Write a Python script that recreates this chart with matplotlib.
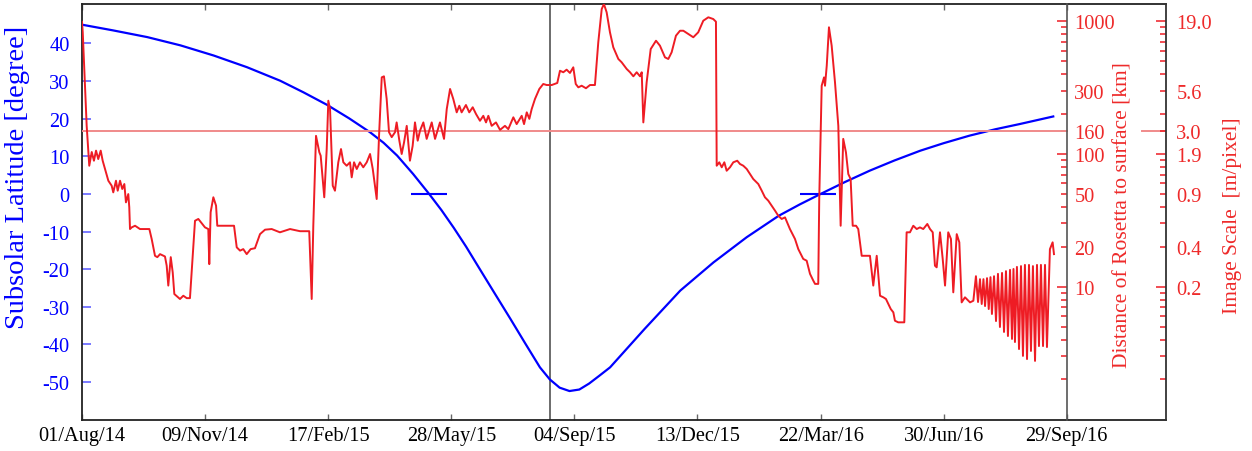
import matplotlib
matplotlib.use("Agg")
import matplotlib.pyplot as plt
from matplotlib.ticker import FixedLocator, FuncFormatter

plt.rcParams['font.family'] = ['Liberation Serif', 'DejaVu Serif']
plt.rcParams['axes.unicode_minus'] = False

# ---------------- data ----------------
date_tick_days = [0, 100, 200, 300, 400, 500, 600, 700, 800]
date_tick_labels = ['01/Aug/14', '09/Nov/14', '17/Feb/15', '28/May/15', '04/Sep/15',
                    '13/Dec/15', '22/Mar/16', '30/Jun/16', '29/Sep/16']

lat_ticks = [-50, -40, -30, -20, -10, 0, 10, 20, 30, 40]

# subsolar latitude (degree) vs days since 01/Aug/14
lat_days = [0, 25, 53, 80, 107, 134, 161, 180, 199, 217, 234, 245, 256, 269, 282, 292,
            302, 312, 323, 335, 348, 360, 372, 380, 388, 396, 404, 412, 420, 429, 457,
            486, 513, 540, 566, 583, 600, 620, 640, 660, 681, 700, 721, 742, 762, 789]
lat_deg = [45.0, 43.5, 41.7, 39.5, 36.8, 33.7, 30.1, 27.0, 23.7, 20.1, 16.4, 13.6, 10.2,
           5.3, 0.0, -4.3, -9.0, -14.0, -19.9, -26.3, -33.2, -39.7, -46.1, -49.3, -51.5,
           -52.4, -52.0, -50.4, -48.4, -46.1, -35.9, -25.7, -18.2, -11.5, -5.8, -2.8, 0.0,
           3.2, 6.2, 8.9, 11.5, 13.5, 15.5, 17.2, 18.6, 20.6]

# distance of Rosetta to surface (km) vs days since 01/Aug/14
dist_days = [
    0.0, 0.6, 3.8, 5.9, 7.9, 9.7, 11.4, 13.2, 15.2, 16.8, 18.7, 21.4, 24.1, 25.4, 27.6,
    29.0, 30.9, 32.7, 34.4, 35.7, 37.6, 38.4, 39.0, 40.4, 43.1, 47.1, 52.6, 54.7, 56.6,
    59.3, 61.2, 63.4, 67.4, 68.8, 70.1, 72.1, 73.7, 75.0, 79.6, 82.3, 85.1, 87.7, 91.8,
    94.5, 99.9, 102.6, 103.4, 104.5, 106.7, 108.9, 109.9, 113.5, 123.5, 125.7, 128.4,
    131.0, 133.8, 137.0, 140.5, 144.6, 148.7, 154.1, 160.8, 169.0, 177.1, 184.6, 186.6,
    187.9, 190.1, 192.8, 193.9, 196.8, 198.8, 200.1, 201.5, 203.7, 205.5, 208.2, 210.4,
    212.3, 215.0, 217.7, 219.1, 221.0, 223.2, 225.8, 228.5, 231.3, 234.0, 236.2, 239.4,
    241.3, 243.5, 245.3, 247.5, 249.4, 251.6, 254.3, 255.6, 257.8, 259.7, 261.6, 263.8,
    266.4, 268.6, 270.5, 272.7, 274.6, 277.3, 280.0, 284.1, 286.8, 290.8, 294.1, 296.3,
    299.0, 301.6, 304.4, 306.5, 308.4, 311.9, 314.6, 317.4, 320.1, 323.3, 326.0, 328.2,
    330.1, 332.8, 336.3, 339.6, 343.6, 346.3, 350.4, 353.1, 357.2, 359.1, 361.3, 363.4,
    365.3, 368.0, 371.5, 374.7, 377.5, 381.6, 386.1, 388.3, 391.0, 393.7, 396.4, 399.1,
    401.1, 403.2, 405.9, 409.4, 412.7, 416.7, 419.4, 422.2, 424.0, 426.2, 428.9, 431.6,
    435.7, 438.4, 442.5, 445.2, 447.9, 450.6, 453.3, 454.7, 456.0, 458.7, 462.0, 466.3,
    469.5, 473.6, 476.3, 479.0, 482.5, 485.8, 488.5, 492.5, 496.6, 500.6, 504.7, 508.8,
    512.8, 515.0, 515.6, 517.7, 519.7, 521.8, 523.7, 526.4, 529.1, 532.3, 534.5, 537.2,
    540.0, 542.6, 545.3, 549.4, 552.2, 554.8, 557.5, 560.3, 563.0, 565.6, 568.4, 571.1,
    575.1, 579.2, 581.9, 585.9, 588.7, 591.4, 594.1, 595.5, 598.1, 598.9, 600.9, 602.8,
    603.6, 605.0, 606.8, 609.0, 611.7, 614.4, 616.3, 618.4, 620.6, 622.5, 624.4, 626.1,
    628.8, 630.6, 633.4, 637.4, 640.1, 642.8, 645.6, 648.3, 651.0, 653.1, 655.0, 657.0,
    659.1, 660.4, 663.1, 668.0, 669.9, 672.6, 675.3, 678.1, 680.7, 683.4, 686.7, 688.9,
    691.1, 692.9, 694.3, 697.0, 699.2, 701.1, 703.7, 705.9, 707.8, 710.6, 712.7, 714.6,
    717.3, 721.4, 724.1,
    726.2, 727.9, 729.5, 730.9, 732.3, 733.6, 735.2, 736.6, 738.0, 739.2, 740.9, 742.5,
    744.1, 745.7, 747.4, 749.0, 750.6, 752.2, 753.9, 755.5, 756.7, 757.9, 759.5, 761.2,
    762.8, 764.4, 766.0, 767.7, 769.3, 770.9, 772.5, 774.2, 775.8, 777.4, 779.0, 780.7,
    782.3, 783.9, 785.1, 786.3, 788.5, 789.6]
dist_km = [
    990, 826, 163, 81.6, 103.5, 89, 106, 91.6, 106, 89, 77.1, 62.9, 57.7, 51.4, 62.9,
    52.9, 62.9, 54.5, 59.4, 43.2, 49.9, 39.7, 27.2, 28.0, 28.8, 27.2, 27.2, 27.2, 22.9,
    17.1, 16.7, 17.6, 16.9, 14.4, 10.2, 16.7, 12.8, 8.81, 8.08, 8.55, 8.2, 8.2, 31.4,
    32.4, 28.0, 27.2, 14.8, 36.4, 47.2, 40.8, 28.8, 28.8, 28.8, 19.8, 18.7,
    19.2, 17.6, 19.2, 19.5, 24.9, 26.9, 27.2, 25.7, 27.2, 26.2, 26.2, 8.08,
    28.8, 137, 103, 97.1, 47.2, 109, 252, 218, 57.7, 52.9, 86.6, 109,
    86.6, 81.6, 86.6, 66.7, 86.6, 77.1, 86.6, 79.4, 86.6, 100, 77.1, 45.8,
    137, 378, 385, 260, 146, 134, 146, 173, 126, 100, 122, 163,
    89, 115, 173, 126, 150, 173, 130, 173, 130, 173, 130, 218,
    309, 260, 206, 231, 206, 234, 206, 225, 200, 178, 194, 173,
    194, 163, 173, 152, 163, 154, 189, 168, 194, 168, 206, 184,
    218, 260, 309, 337, 331, 331, 343, 424, 413, 432, 408, 450,
    337, 318, 327, 313, 331, 331, 694, 1237, 1350, 1169, 826, 637,
    520, 491, 437, 413, 385, 413, 385, 413, 173, 347, 618, 714,
    655, 535, 520, 584, 779, 849, 849, 802, 758, 826, 1010, 1072,
    1040, 993, 81.6, 86.6, 79.4, 86.6, 74.8, 79.4, 86.6, 89, 84.1, 81.6,
    77.1, 70.7, 64.8, 59.4, 52.9, 47.2, 44.5, 40.8, 37.4, 34.3, 32.4, 33.3,
    27.2, 22.9, 19.2, 16.2, 15.7, 12.5, 11.1, 10.5, 10.5, 45.8, 327, 378,
    327, 463, 901, 655, 347, 163, 28.8, 130, 103, 70.7, 64.8, 28.8,
    28.8, 27.2, 17.1, 17.1, 17.1, 10.2, 17.1, 8.55, 8.32, 8.08, 7.41, 6.79,
    6.41, 5.54, 5.39, 5.39, 25.7, 25.7, 28.8, 27.2, 28.0, 27.2, 29.7, 27.2,
    25.7, 14.4, 14.0, 25.7, 16.2, 10.2, 25.7, 22.9, 9.07, 24.9, 21.6, 7.62,
    8.32, 7.62, 7.84,
    12.0, 7.67, 11.4, 7.41, 11.4, 7.15, 11.6, 6.79, 11.8, 6.23, 12.0, 5.51,
    12.5, 4.97, 12.7, 4.56, 13.1, 4.25, 13.4, 4.04, 13.6, 3.83, 14.1, 3.39,
    14.3, 3.01, 14.6, 2.85, 14.6, 3.28, 14.3, 2.76, 14.6, 3.57, 14.6, 3.57,
    14.6, 3.51, 8.08, 19.2, 21.6, 17.6]

perihelion_day = 380
equinox_days = [282, 598]
ref_line_km = 150

dist_major = [10, 100, 1000]
dist_minor = [k * 10 ** n for n in range(0, 3) for k in range(2, 10)] + [150]
dist_label_values = [10, 20, 50, 100, 150, 300, 1000]
dist_label_text = ['10', '20', '50', '100', '160', '300', '1000']
scale_label_text = ['0.2', '0.4', '0.9', '1.9', '3.0', '5.6', '19.0']

# ---------------- styling ----------------
BLUE = '#0000ff'
RED = '#ee1c24'
LABEL_RED = '#ee2a2a'
FS_TICK = 14.7
FS_LAB = 15.5

fig = plt.figure(figsize=(12.52, 4.52), dpi=100)
L, R, T, B = 82, 1166, 5, 421
ax = fig.add_axes([L / 1252, 1 - B / 452, (R - L) / 1252, (B - T) / 452])

ax.plot(lat_days, lat_deg, color=BLUE, lw=1.6, zorder=3)
for d in equinox_days:
    ax.hlines(0, d - 14.6, d + 14.6, color=BLUE, lw=1.5, zorder=3)
ax.axvline(perihelion_day, color='#444444', lw=1.1, zorder=1)

ax.set_xlim(0, 880.6)
ax.set_ylim(-60.1, 50.5)
ax.set_xticks(date_tick_days)
ax.set_xticklabels(date_tick_labels)
ax.set_yticks(lat_ticks)
ax.tick_params(axis='x', direction='in', length=4, width=1, color='#666666',
               labelsize=FS_TICK, pad=4, top=True, labeltop=False)
ax.tick_params(axis='y', direction='in', length=6.5, width=1.1, color='#5555ff',
               labelcolor=BLUE, labelsize=FS_TICK, pad=9)
ax.set_ylabel('Subsolar Latitude [degree]', color=BLUE, fontsize=20.5)
ax.yaxis.set_label_coords(-0.048, 0.585)
for s in ['left', 'top', 'bottom']:
    ax.spines[s].set_color('#222222')
    ax.spines[s].set_linewidth(1.3)
ax.spines['right'].set_visible(False)


def log_axis(a, labels, pad):
    a.set_yscale('log')
    a.set_ylim(0.99, 1350)
    m = dict(zip(dist_label_values, labels))
    fmt = FuncFormatter(lambda v, p: m.get(int(round(v)), ''))
    a.yaxis.set_major_locator(FixedLocator(dist_major))
    a.yaxis.set_minor_locator(FixedLocator(dist_minor))
    a.yaxis.set_major_formatter(fmt)
    a.yaxis.set_minor_formatter(fmt)
    a.tick_params(axis='y', which='major', direction='in', length=7, width=1.1,
                  color=RED, labelcolor=LABEL_RED, labelsize=FS_TICK, pad=pad)
    a.tick_params(axis='y', which='minor', direction='in', length=4.3, width=1.1,
                  color=RED, labelcolor=LABEL_RED, labelsize=FS_TICK, pad=pad)
    for s in ['left', 'top', 'bottom']:
        a.spines[s].set_visible(False)


ax2 = ax.twinx()
log_axis(ax2, dist_label_text, 5.5)
ax2.spines['right'].set_position(('data', 800))
ax2.spines['right'].set_color('#555555')
ax2.spines['right'].set_linewidth(1.2)
ax2.plot(dist_days, dist_km, color=RED, lw=1.4, zorder=3)
ax2.axhline(ref_line_km, xmin=0, xmax=800 / 880.6, color='#f08a8a', lw=1.4, zorder=2)
ax2.axhline(ref_line_km, xmin=0.978, xmax=1, color='#f08a8a', lw=1.4, zorder=2)
ax2.set_ylabel('Distance of Rosetta to surface [km]', color=LABEL_RED, fontsize=FS_LAB)
ax2.yaxis.set_label_coords(0.952, 0.495)

ax3 = ax.twinx()
log_axis(ax3, scale_label_text, 7.5)
ax3.spines['right'].set_color('#333333')
ax3.spines['right'].set_linewidth(1.3)
ax3.set_ylabel('Image Scale  [m/pixel]', color=LABEL_RED, fontsize=FS_LAB)
ax3.yaxis.set_label_coords(1.053, 0.493)

fig.savefig('out.png', dpi=100)
